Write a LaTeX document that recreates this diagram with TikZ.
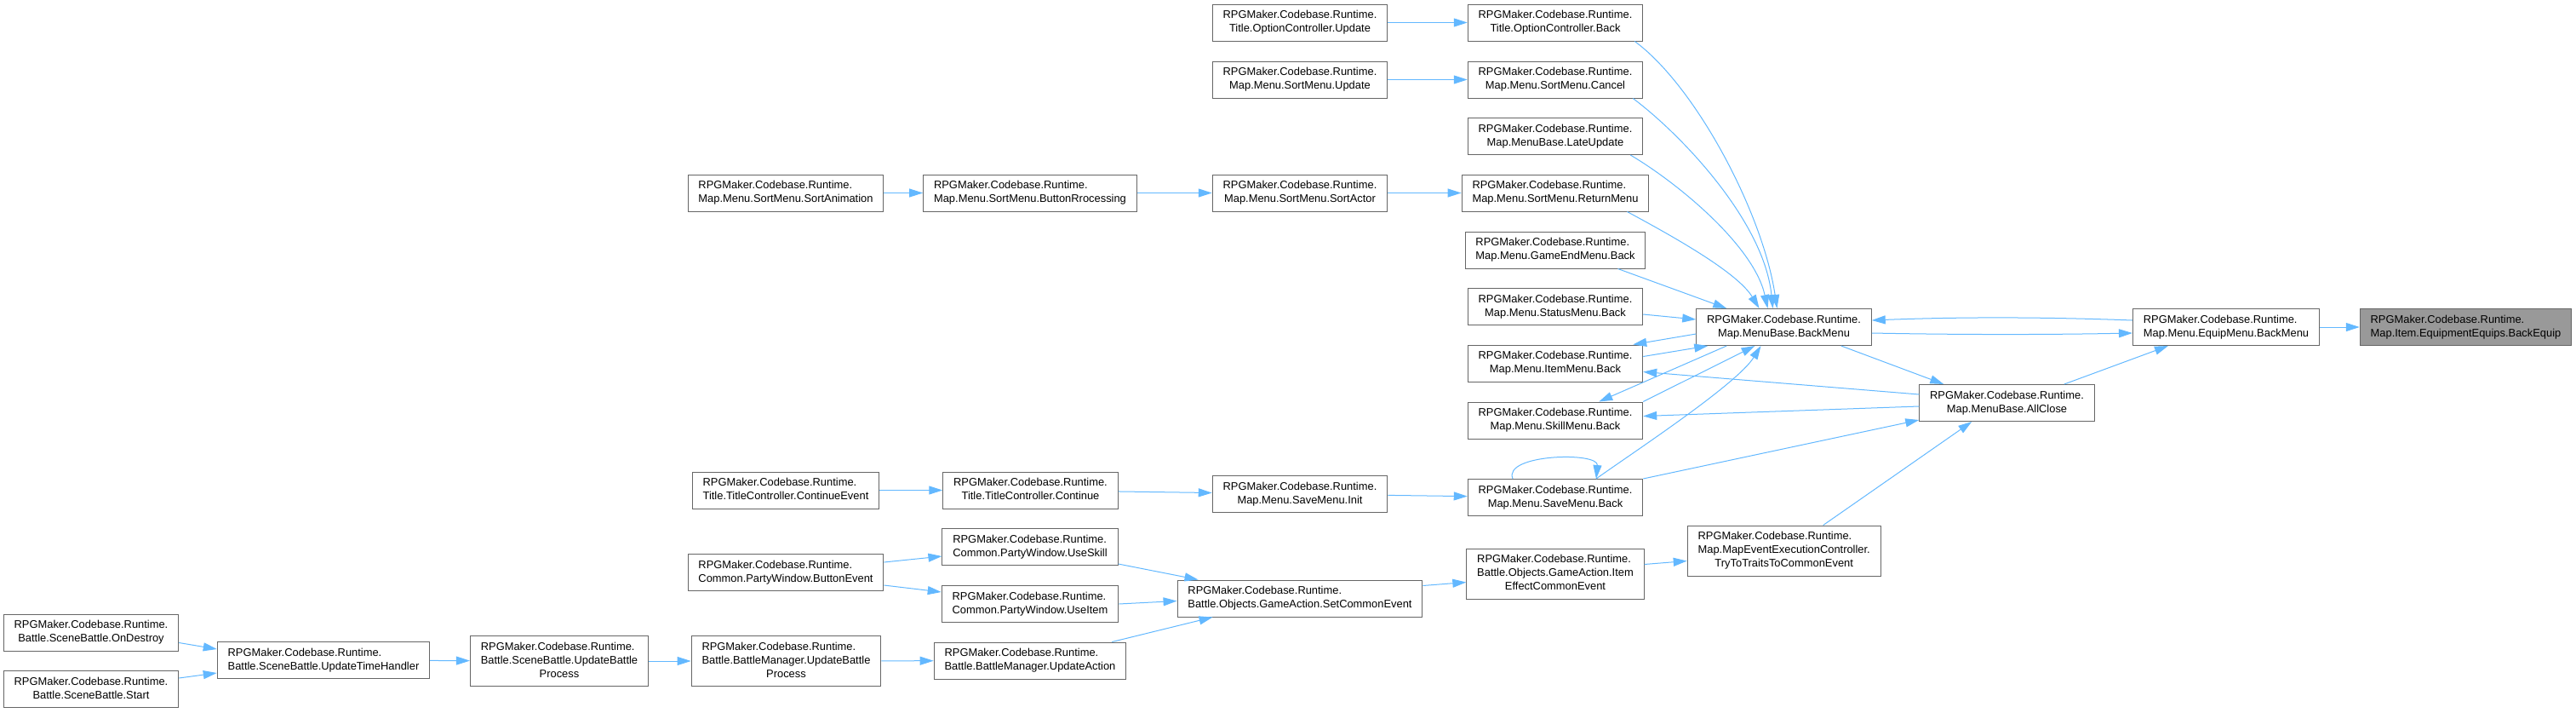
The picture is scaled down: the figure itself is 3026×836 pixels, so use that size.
\documentclass[tikz,border=0pt]{standalone}
\usepackage{fontspec}
\setmainfont{Liberation Sans}
\usetikzlibrary{arrows.meta,calc}

\definecolor{edgeblue}{HTML}{63B8FF}
\definecolor{boxgray}{HTML}{666666}
\definecolor{hlgray}{HTML}{999999}

\newcommand{\fnfont}{\fontsize{6.45}{8}\selectfont}
\newcommand{\ns}{RPGMaker.Codebase.Runtime.}
\newcommand{\fntwo}[1]{\begin{tabular}{@{}l@{}}\ns\\\multicolumn{1}{@{}c@{}}{#1}\end{tabular}}
\newcommand{\fnthree}[2]{\begin{tabular}{@{}l@{}}\ns\\#1\\\multicolumn{1}{@{}c@{}}{#2}\end{tabular}}

\begin{document}
\begin{tikzpicture}[x=0.5pt, y=-0.5pt,
  fn/.style={draw=boxgray, fill=white, line width=0.5pt, inner xsep=6.2pt, inner ysep=2.75pt, font=\fnfont},
  call/.style={draw=edgeblue, line width=0.5pt, -{Triangle[length=8pt,width=5pt]}}]

\useasboundingbox (0,0) rectangle (3026,836);

% menu callers (top)
\node[fn] (optUpdate)  at (1527,26.5)  {\fntwo{Title.OptionController.Update}};
\node[fn] (optBack)    at (1827,26.5)  {\fntwo{Title.OptionController.Back}};
\node[fn] (sortUpdate) at (1527,93.5)  {\fntwo{Map.Menu.SortMenu.Update}};
\node[fn] (sortCancel) at (1827,93.5)  {\fntwo{Map.Menu.SortMenu.Cancel}};
\node[fn] (lateUpdate) at (1827,160)   {\fntwo{Map.MenuBase.LateUpdate}};
\node[fn] (sortAnim)   at (923,226.5)  {\fntwo{Map.Menu.SortMenu.SortAnimation}};
\node[fn] (btnProc)    at (1210,226.5) {\fntwo{Map.Menu.SortMenu.ButtonRrocessing}};
\node[fn] (sortActor)  at (1527,226.5) {\fntwo{Map.Menu.SortMenu.SortActor}};
\node[fn] (returnMenu) at (1827,226.5) {\fntwo{Map.Menu.SortMenu.ReturnMenu}};
\node[fn] (gameEnd)    at (1827,293.5) {\fntwo{Map.Menu.GameEndMenu.Back}};
\node[fn] (statusBack) at (1827,360)   {\fntwo{Map.Menu.StatusMenu.Back}};
\node[fn] (itemBack)   at (1827,426.5) {\fntwo{Map.Menu.ItemMenu.Back}};
\node[fn] (skillBack)  at (1827,493.5) {\fntwo{Map.Menu.SkillMenu.Back}};

% central chain
\node[fn] (backMenu)      at (2095.5,384) {\fntwo{Map.MenuBase.BackMenu}};
\node[fn] (allClose)      at (2357.5,473) {\fntwo{Map.MenuBase.AllClose}};
\node[fn] (equipBackMenu) at (2615,384)   {\fntwo{Map.Menu.EquipMenu.BackMenu}};
\node[fn, fill=hlgray] (backEquip) at (2896.5,384) {\fntwo{Map.Item.EquipmentEquips.BackEquip}};

% save / title
\node[fn] (contEvent) at (923,575.5)  {\fntwo{Title.TitleController.ContinueEvent}};
\node[fn] (cont)      at (1210.5,575.5) {\fntwo{Title.TitleController.Continue}};
\node[fn] (saveInit)  at (1527,580)   {\fntwo{Map.Menu.SaveMenu.Init}};
\node[fn] (saveBack)  at (1827,584)   {\fntwo{Map.Menu.SaveMenu.Back}};

% battle side
\node[fn] (useSkill)     at (1210,642)   {\fntwo{Common.PartyWindow.UseSkill}};
\node[fn] (btnEvent)     at (923,672)    {\fntwo{Common.PartyWindow.ButtonEvent}};
\node[fn] (useItem)      at (1210,709)   {\fntwo{Common.PartyWindow.UseItem}};
\node[fn] (setCommon)    at (1527,702.5) {\fntwo{Battle.Objects.GameAction.SetCommonEvent}};
\node[fn] (itemEffect)   at (1827,673.5) {\fnthree{Battle.Objects.GameAction.Item}{EffectCommonEvent}};
\node[fn] (tryTo)        at (2095.7,646.5) {\fnthree{Map.MapEventExecutionController.}{TryToTraitsToCommonEvent}};
\node[fn] (bmUpdate)     at (923.5,776)  {\fnthree{Battle.BattleManager.UpdateBattle}{Process}};
\node[fn] (updateAction) at (1210,775.5) {\fntwo{Battle.BattleManager.UpdateAction}};
\node[fn] (onDestroy)    at (107,742.5)  {\fntwo{Battle.SceneBattle.OnDestroy}};
\node[fn] (start)        at (107,809)    {\fntwo{Battle.SceneBattle.Start}};
\node[fn] (timeHandler)  at (380,775)    {\fntwo{Battle.SceneBattle.UpdateTimeHandler}};
\node[fn] (sbUpdate)     at (657,776)    {\fnthree{Battle.SceneBattle.UpdateBattle}{Process}};

% straight calls
\draw[call] (optUpdate) -- (optBack);
\draw[call] (sortUpdate) -- (sortCancel);
\draw[call] (sortAnim) -- (btnProc);
\draw[call] (btnProc) -- (sortActor);
\draw[call] (sortActor) -- (returnMenu);
\draw[call] (contEvent) -- (cont);
\draw[call] (cont) -- (saveInit);
\draw[call] (saveInit) -- (saveBack);
\draw[call] (timeHandler) -- (sbUpdate);
\draw[call] (sbUpdate) -- (bmUpdate);
\draw[call] (bmUpdate) -- (updateAction);
\draw[call] (equipBackMenu) -- (backEquip);

% into BackMenu from above
\draw[call] ($(optBack.south east)+(-10,0)$) .. controls +(71,52) and +(-17,-113) .. ($(backMenu.north)+(-8,0)$);
\draw[call] ($(sortCancel.south east)+(-12,0)$) .. controls +(60,45) and +(-10,-100) .. ($(backMenu.north)+(-13,0)$);
\draw[call] ($(lateUpdate.south east)+(-15,0)$) .. controls +(56,33) and +(-16,-73) .. ($(backMenu.north)+(-19,0)$);
\draw[call] ($(returnMenu.south east)+(-26,0)$) .. controls +(50,27) and +(-26,-43) .. ($(backMenu.north)+(-29,0)$);
\draw[call] ($(gameEnd.south east)+(-33,0)$) -- ($(backMenu.north west)+(36,0)$);
\draw[call] ($(statusBack.east)+(0,9)$) -- ($(backMenu.west)+(0,-9)$);

% BackMenu <-> item / skill / save
\draw[call] ($(backMenu.west)+(0,8)$) -- ($(itemBack.north east)+(-12,0)$);
\draw[call] ($(itemBack.east)+(0,-8)$) -- ($(backMenu.south west)+(14,0)$);
\draw[call] ($(backMenu.south west)+(36,0)$) -- ($(skillBack.north east)+(-52,0)$);
\draw[call] (skillBack.north east) -- ($(backMenu.south)+(-34,0)$);
\draw[call] ($(saveBack.north)+(48,0)$) .. controls +(45,-32) and +(-28,45) .. ($(backMenu.south)+(-27,0)$);
\draw[call] ($(saveBack.north)+(-50,0)$) .. controls +(-12,-29) and +(3,-32) .. ($(saveBack.north)+(48,0)$);

% BackMenu <-> EquipMenu, AllClose
\draw[call] ($(equipBackMenu.west)+(0,-8)$) .. controls +(-106,-4) and +(103,-4) .. ($(backMenu.east)+(0,-8)$);
\draw[call] ($(backMenu.east)+(0,7)$) .. controls +(103,2) and +(-103,2) .. ($(equipBackMenu.west)+(0,7)$);
\draw[call] ($(backMenu.south east)+(-36,0)$) -- ($(allClose.north west)+(29,0)$);
\draw[call] ($(allClose.north east)+(-36,0)$) -- ($(equipBackMenu.south west)+(42,0)$);
\draw[call] ($(allClose.west)+(0,-10)$) -- ($(itemBack.east)+(0,10)$);
\draw[call] ($(allClose.west)+(0,4)$) -- ($(skillBack.east)+(0,-5)$);
\draw[call] (saveBack.north east) -- ($(allClose.south west)+(0,-2)$);

% battle calls
\draw[call] ($(btnEvent.north east)+(0,10)$) -- ($(useSkill.west)+(0,11)$);
\draw[call] ($(btnEvent.south east)+(0,-7)$) -- ($(useItem.west)+(0,-14)$);
\draw[call] ($(useSkill.east)+(0,20)$) -- ($(setCommon.north west)+(25,0)$);
\draw[call] (useItem.east) -- ($(setCommon.west)+(0,3)$);
\draw[call] ($(updateAction.north east)+(-17,0)$) -- ($(setCommon.south west)+(42,0)$);
\draw[call] ($(setCommon.north east)+(0,7)$) -- ($(itemEffect.west)+(0,10)$);
\draw[call] ($(itemEffect.east)+(0,-11)$) -- ($(tryTo.west)+(0,12)$);
\draw[call] ($(tryTo.north west)+(160,0)$) -- ($(allClose.south west)+(62,0)$);
\draw[call] ($(onDestroy.east)+(0,12)$) -- ($(timeHandler.west)+(0,-13)$);
\draw[call] ($(start.north east)+(0,9)$) -- ($(timeHandler.west)+(0,15)$);

\end{tikzpicture}
\end{document}
